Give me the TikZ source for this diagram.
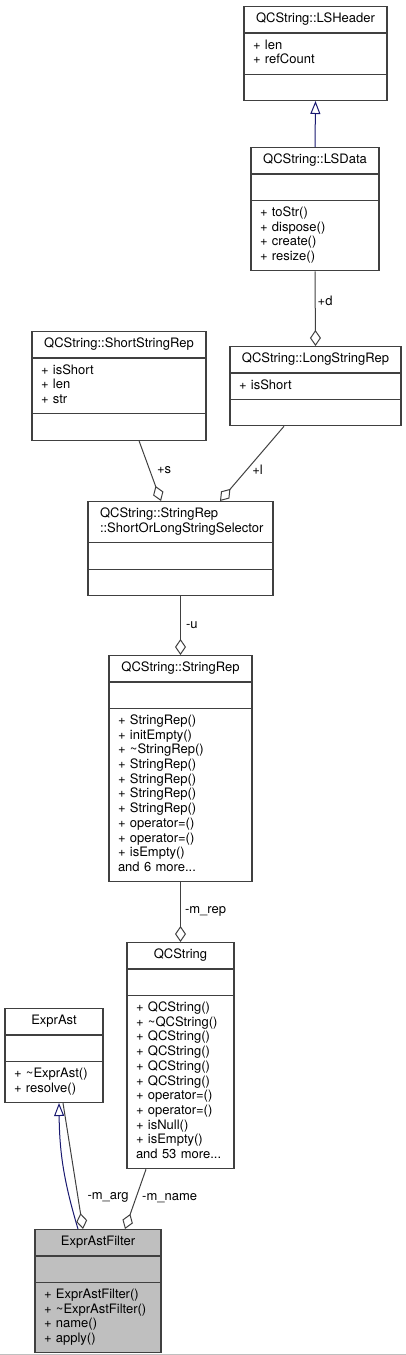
\documentclass[tikz,border=0pt]{standalone}
\usepackage{fontspec}
\newfontfamily\heros{TeX Gyre Heros}
\usetikzlibrary{shapes.multipart,arrows.meta}

\definecolor{bordegris}{HTML}{404040}
\definecolor{herenciaazul}{HTML}{191970}
\definecolor{rellenogris}{HTML}{BFBFBF}

\newcommand{\compart}[1]{\strut#1\strut}
\newcommand{\titulo}[1]{\strut\hspace*{\fill}#1\hspace*{\fill}\strut}

\tikzset{
    clase/.style={rectangle split, rectangle split parts=3, draw=bordegris, line width=1.1pt,
        fill=white, text width=#1, align=left, inner xsep=9pt, inner ysep=5.3pt,
        font=\fontsize{13}{14.7}\heros, anchor=north},
    agregacion/.style={draw=bordegris, line width=1pt, -{Diamond[open, length=16pt, width=11pt]}},
    herencia/.style={draw=herenciaazul, line width=1pt, -{Triangle[open, length=13pt, width=10pt]}},
    etiqueta/.style={font=\fontsize{13}{14.7}\heros, inner sep=2pt},
}

\begin{document}
\begin{tikzpicture}[x=1pt, y=-1pt]
    \useasboundingbox (0,0) rectangle (406,1355);

    % Clases
    \node[clase=125pt] (lsheader) at (315.5,6) {\titulo{QCString::LSHeader}
        \nodepart{two}\compart{+ len\\+ refCount}
        \nodepart{three}\strut};
    \node[clase=110pt] (lsdata) at (315,147) {\titulo{QCString::LSData}
        \nodepart{two}\strut
        \nodepart{three}\compart{+ toStr()\\+ dispose()\\+ create()\\+ resize()}};
    \node[clase=156pt] (shortrep) at (119,331) {\titulo{QCString::ShortStringRep}
        \nodepart{two}\compart{+ isShort\\+ len\\+ str}
        \nodepart{three}\strut};
    \node[clase=153pt] (longrep) at (315.5,346) {\titulo{QCString::LongStringRep}
        \nodepart{two}\compart{+ isShort}
        \nodepart{three}\strut};
    \node[clase=167pt] (selector) at (180.5,501) {\compart{\hspace*{3pt}QCString::StringRep\\\hspace*{3pt}::ShortOrLongStringSelector}
        \nodepart{two}\strut
        \nodepart{three}\strut};
    \node[clase=125pt] (stringrep) at (180.5,655) {\titulo{QCString::StringRep}
        \nodepart{two}\strut
        \nodepart{three}\compart{+ StringRep()\\+ initEmpty()\\+ \textasciitilde StringRep()\\+ StringRep()\\+ StringRep()\\+ StringRep()\\+ StringRep()\\+ operator=()\\+ operator=()\\+ isEmpty()\\and 6 more...}};
    \node[clase=89pt] (qcstring) at (180.5,942) {\titulo{QCString}
        \nodepart{two}\strut
        \nodepart{three}\compart{+ QCString()\\+ \textasciitilde QCString()\\+ QCString()\\+ QCString()\\+ QCString()\\+ QCString()\\+ operator=()\\+ operator=()\\+ isNull()\\+ isEmpty()\\and 53 more...}};
    \node[clase=80pt] (exprast) at (54,1008) {\titulo{ExprAst}
        \nodepart{two}\strut
        \nodepart{three}\compart{+ \textasciitilde ExprAst()\\+ resolve()}};
    \node[clase=108pt, fill=rellenogris] (filter) at (98,1229) {\titulo{ExprAstFilter}
        \nodepart{two}\strut
        \nodepart{three}\compart{+ ExprAstFilter()\\+ \textasciitilde ExprAstFilter()\\+ name()\\+ apply()}};

    % Herencia
    \draw[herencia] (lsdata.north) -- (lsheader.south);
    \draw[herencia] ([xshift=-20pt]filter.north) to[bend left=8] ([xshift=5pt]exprast.south);

    % Agregaciones
    \draw[agregacion] (lsdata.south) -- node[etiqueta, right, pos=0.4] {+d} (longrep.north);
    \draw[agregacion] ([xshift=20pt]shortrep.south) -- node[etiqueta, right, pos=0.48, xshift=5pt] {+s} ([xshift=-19.5pt]selector.north);
    \draw[agregacion] ([xshift=-31.5pt]longrep.south) -- node[etiqueta, right, pos=0.58, xshift=3pt] {+l} ([xshift=39.5pt]selector.north);
    \draw[agregacion] (selector.south) -- node[etiqueta, right, pos=0.5, xshift=3pt] {-u} (stringrep.north);
    \draw[agregacion] (stringrep.south) -- node[etiqueta, right, pos=0.48, xshift=2pt] {-m\_rep} (qcstring.north);
    \draw[agregacion] ([xshift=9pt]exprast.south) -- node[etiqueta, right, pos=0.75, xshift=7pt] {-m\_arg} ([xshift=-15pt]filter.north);
    \draw[agregacion] ([xshift=-34.5pt]qcstring.south) -- node[etiqueta, right, pos=0.49, xshift=4pt] {-m\_name} ([xshift=27pt]filter.north);

    % Borde inferior
    \draw[black!25, line width=1pt] (0,1354) -- (406,1354);
\end{tikzpicture}
\end{document}
